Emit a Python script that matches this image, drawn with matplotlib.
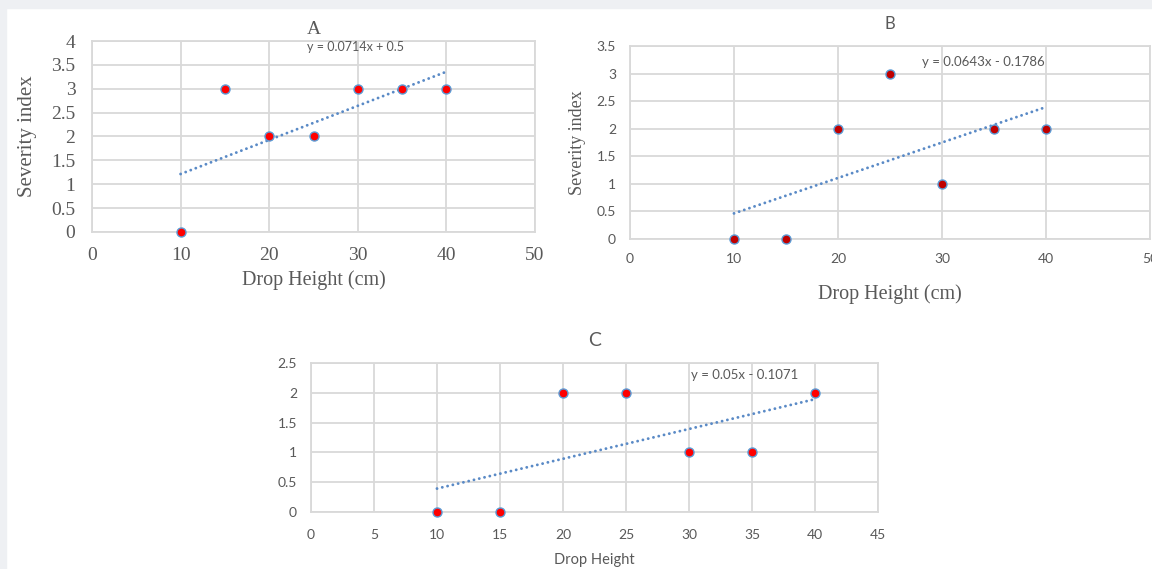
import numpy as np
import matplotlib
matplotlib.use("Agg")
import matplotlib.pyplot as plt

# drop heights and severity scores for the three panels
heights = [10, 15, 20, 25, 30, 35, 40]
severity_a = [0, 3, 2, 2, 3, 3, 3]
severity_b = [0, 0, 2, 3, 1, 2, 2]
severity_c = [0, 0, 2, 2, 1, 1, 2]

eq_a = "y = 0.0714x + 0.5"
eq_b = "y = 0.0643x - 0.1786"
eq_c = "y = 0.05x - 0.1071"

xticks_ab = [0, 10, 20, 30, 40, 50]
yticks_a = [0, 0.5, 1, 1.5, 2, 2.5, 3, 3.5, 4]
yticks_b = [0, 0.5, 1, 1.5, 2, 2.5, 3, 3.5]
xticks_c = [0, 5, 10, 15, 20, 25, 30, 35, 40, 45]
yticks_c = [0, 0.5, 1, 1.5, 2, 2.5]

GRID = "#d9d9d9"
TXT = "#595959"
TREND = "#5a8ac6"
SERIF = "Liberation Serif"
SANS = "Lato"


def setup(ax, xt, yt, fam, fs):
    ax.set_xlim(xt[0], xt[-1])
    ax.set_ylim(yt[0], yt[-1])
    ax.set_xticks(xt)
    ax.set_yticks(yt)
    ax.set_xticklabels([f"{v:g}" for v in xt], family=fam, fontsize=fs, color=TXT)
    ax.set_yticklabels([f"{v:g}" for v in yt], family=fam, fontsize=fs, color=TXT)
    ax.tick_params(length=0)
    ax.grid(True, color=GRID, lw=1.3)
    ax.set_axisbelow(True)
    for s in ax.spines.values():
        s.set_color(GRID)
        s.set_linewidth(1.3)


def draw(ax, y, face):
    x = np.array(heights)
    m, b = np.polyfit(x, y, 1)
    xx = np.array([x.min(), x.max()])
    # round dots like Excel's dotted trendline
    ax.plot(xx, m * xx + b, color=TREND, lw=2.1, linestyle=(0, (0.01, 1.85)),
            dash_capstyle="round", zorder=2)
    ax.plot(x, y, "o", ms=6.5, mfc=face, mec="#5b9bd5", mew=1.0,
            linestyle="none", zorder=3, clip_on=False)


fig = plt.figure(figsize=(11.52, 5.69), dpi=100)
fig.patch.set_facecolor("white")
# grey border strip along the top and left
fig.add_artist(plt.Rectangle((0, 1 - 8 / 569), 1, 8 / 569, transform=fig.transFigure,
                             color="#eef0f3", zorder=0))
fig.add_artist(plt.Rectangle((0, 0), 6 / 1152, 1, transform=fig.transFigure,
                             color="#eef0f3", zorder=0))

# panel A
axA = fig.add_axes([92 / 1152, 1 - 232 / 569, 443 / 1152, 191 / 569])
setup(axA, xticks_ab, yticks_a, SERIF, 14)
axA.tick_params(axis="x", pad=11)
axA.tick_params(axis="y", pad=12)
draw(axA, severity_a, "#ff0000")
axA.set_ylabel("Severity index", family=SERIF, fontsize=15, color=TXT, labelpad=10)
axA.set_xlabel("Drop Height (cm)", family=SERIF, fontsize=14.5, color=TXT, labelpad=4)
axA.set_title("A", family=SERIF, fontsize=14, color=TXT, pad=5)
axA.text(0.595, 0.97, eq_a, transform=axA.transAxes, ha="center", va="center",
         family=SANS, fontsize=9, color=TXT)

# panel B
axB = fig.add_axes([630 / 1152, 1 - 239 / 569, 520 / 1152, 193 / 569])
setup(axB, xticks_ab, yticks_b, SANS, 10)
axB.tick_params(axis="x", pad=10)
axB.tick_params(axis="y", pad=10)
draw(axB, severity_b, "#c00000")
axB.set_ylabel("Severity index", family=SERIF, fontsize=13, color=TXT, labelpad=8)
axB.set_xlabel("Drop Height (cm)", family=SERIF, fontsize=14.5, color=TXT, labelpad=14)
axB.set_title("B", family=SANS, fontsize=12, color=TXT, pad=12)
axB.text(0.68, 0.915, eq_b, transform=axB.transAxes, ha="center", va="center",
         family=SANS, fontsize=9.5, color=TXT)

# panel C
axC = fig.add_axes([311 / 1152, 1 - 512 / 569, 567 / 1152, 149 / 569])
setup(axC, xticks_c, yticks_c, SANS, 10)
axC.tick_params(axis="x", pad=12)
axC.tick_params(axis="y", pad=10)
draw(axC, severity_c, "#ff0000")
axC.set_xlabel("Drop Height", family=SANS, fontsize=10.5, color=TXT, labelpad=9)
axC.set_title("C", family=SANS, fontsize=14, color=TXT, pad=12)
axC.text(0.765, 0.92, eq_c, transform=axC.transAxes, ha="center", va="center",
         family=SANS, fontsize=9.5, color=TXT)

fig.savefig("out.png", dpi=100, facecolor=fig.get_facecolor())
